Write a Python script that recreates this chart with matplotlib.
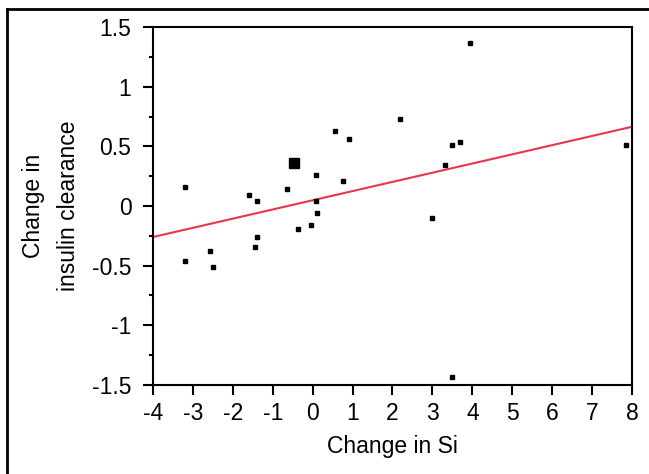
import matplotlib
matplotlib.use('Agg')
import matplotlib.pyplot as plt
from matplotlib.lines import Line2D
import numpy as np

plt.rcParams['font.family'] = ['Liberation Sans', 'DejaVu Sans']

# change in Si vs change in insulin clearance
si_change = [-3.2, -3.2, -2.57, -2.5, -1.6, -1.4, -1.4, -1.45, -0.64, -0.37,
             -0.04, 0.08, 0.08, 0.11, 0.56, 0.91, 0.76, 2.19, 2.99, 3.31,
             3.49, 3.69, 3.94, 3.49, 7.85]
clearance_change = [0.16, -0.46, -0.38, -0.51, 0.09, 0.04, -0.26, -0.34, 0.14, -0.19,
                    -0.16, 0.26, 0.04, -0.06, 0.63, 0.56, 0.21, 0.73, -0.10, 0.34,
                    0.51, 0.54, 1.37, -1.43, 0.51]
# one point drawn bigger
big_x = [-0.47]
big_y = [0.36]

# regression line
fit_slope = 0.077
fit_intercept = 0.048

xticks = list(range(-4, 9))
yticks = [-1.5, -1, -0.5, 0, 0.5, 1, 1.5]
ytick_labels = ['-1.5', '-1', '-0.5', '0', '0.5', '1', '1.5']

fs = 16.5

fig = plt.figure(figsize=(6.49, 4.74), dpi=100)
ax = fig.add_axes([0.2357, 0.1878, 0.7381, 0.7552])

xs = np.array([-4, 8])
ax.plot(xs, fit_slope * xs + fit_intercept, color='#e8364a', lw=1.5, zorder=2)
ax.plot(si_change, clearance_change, 's', color='black', ms=3.2, zorder=3)
ax.plot(big_x, big_y, 's', color='black', ms=6.5, zorder=3)

ax.set_xlim(-4, 8)
ax.set_ylim(-1.5, 1.5)
ax.set_xticks(xticks)
ax.set_xticklabels([str(t) for t in xticks])
ax.set_yticks(yticks)
ax.set_yticklabels(ytick_labels)
ax.set_yticks(np.arange(-1.25, 1.5, 0.5), minor=True)

ax.tick_params(axis='both', which='major', direction='out', length=7.5, width=1.5,
               labelsize=fs, colors='black')
ax.tick_params(axis='x', pad=5)
ax.tick_params(axis='y', pad=8)
ax.tick_params(axis='y', which='minor', direction='out', length=3, width=1.5)
for s in ax.spines.values():
    s.set_linewidth(1.5)

ax.set_xlabel('Change in Si', fontsize=fs, labelpad=7)
ax.set_ylabel('Change in\ninsulin clearance', fontsize=fs, linespacing=1.7,
              va='center')
ax.yaxis.set_label_coords(-0.213, 0.5)

# outer frame (top and left edges only)
fig.add_artist(Line2D([0.0108, 1.0], [0.981, 0.981], color='black', lw=2,
                      transform=fig.transFigure))
fig.add_artist(Line2D([0.0108, 0.0108], [0.0, 0.981], color='black', lw=2,
                      transform=fig.transFigure))

plt.savefig('out.png', dpi=100)
